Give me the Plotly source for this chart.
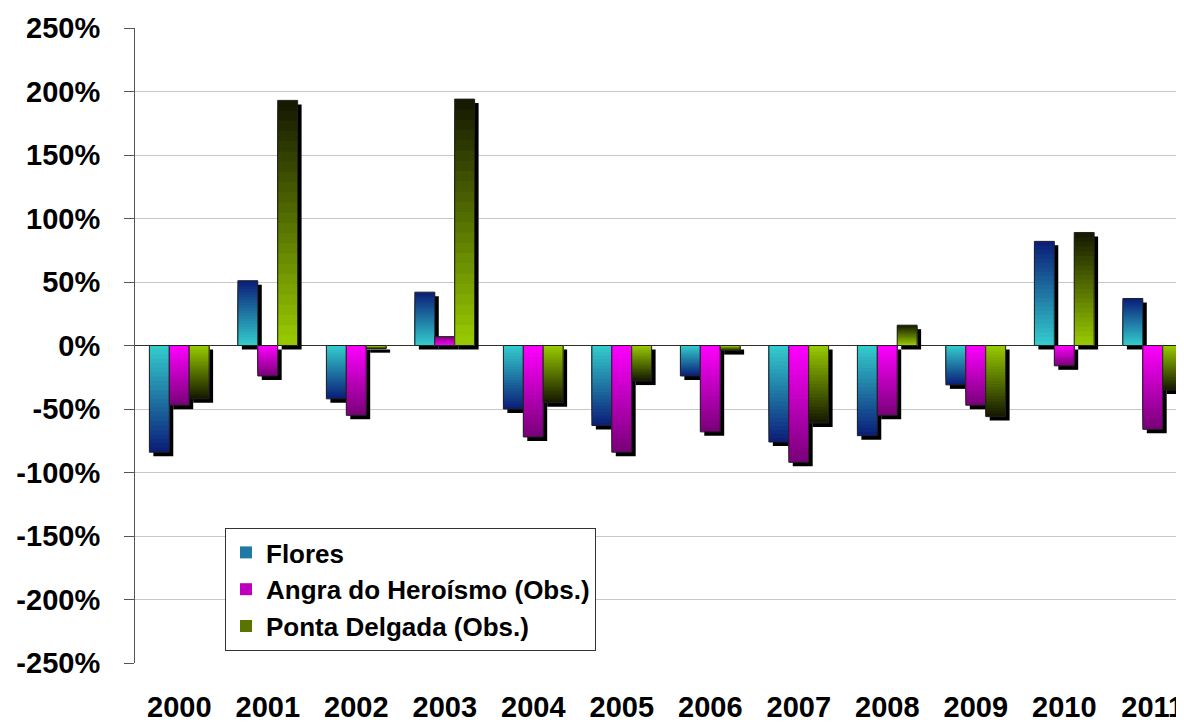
import numpy as np
import plotly.graph_objects as go

# ---------------- data ----------------
years = ["2000", "2001", "2002", "2003", "2004", "2005",
         "2006", "2007", "2008", "2009", "2010", "2011"]
flores = [-84, 51, -42, 42, -50, -63, -24, -76, -71, -31, 82, 37]
angra = [-47, -24, -55, 7, -72, -84, -68, -92, -55, -47, -16, -66]
ponta = [-42, 193, -2.5, 194, -45, -28, -4, -61, 16, -56, 89, -35]
series_names = ["Flores", "Angra do Heroísmo (Obs.)", "Ponta Delgada (Obs.)"]
y_ticks = [-250, -200, -150, -100, -50, 0, 50, 100, 150, 200, 250]

# ---------------- styles ----------------
# (bright colour at the bar base, dark colour at the bar tip)
grad_colors = [
    ((52, 206, 206), (10, 28, 120)),
    ((255, 0, 255), (120, 0, 120)),
    ((153, 204, 0), (20, 22, 0)),
]
bar_w = 0.225
offsets = [-0.3375, -0.1125, 0.1125]
shadow_dx = 0.045
shadow_dy = 3.15
n_seg = 24
x_max = 11.353
font_family = "Liberation Sans, Arial, sans-serif"
PAGE_PAD = 8  # default body margin of the html page


def lerp(c0, c1, t):
    return "rgb(%d,%d,%d)" % tuple(round(a + (b - a) * t) for a, b in zip(c0, c1))


fig = go.Figure()
all_vals = [flores, angra, ponta]

# shadows (behind every bar)
for vals, off in zip(all_vals, offsets):
    fig.add_trace(go.Bar(
        x=years, y=vals, base=[-shadow_dy] * len(vals),
        width=bar_w, offset=off + shadow_dx,
        marker=dict(color="black", line=dict(width=0)),
        showlegend=False, hoverinfo="skip"))

# gradient-filled bars
for name, vals, off, (c_base, c_tip) in zip(series_names, all_vals, offsets, grad_colors):
    v = np.array(vals, dtype=float)
    for k in range(n_seg):
        frac = (n_seg - k) / n_seg
        t = (n_seg - k - 0.5) / n_seg
        fig.add_trace(go.Bar(
            x=years, y=v * frac, width=bar_w, offset=off,
            marker=dict(color=lerp(c_base, c_tip, t), line=dict(width=0)),
            name=name, legendgroup=name,
            showlegend=(k == n_seg // 2),
            hoverinfo="skip" if k else None))
    # thin dark outline
    fig.add_trace(go.Bar(
        x=years, y=v, width=bar_w, offset=off,
        marker=dict(color="rgba(0,0,0,0)", line=dict(color="#202020", width=1)),
        showlegend=False, legendgroup=name, hoverinfo="skip"))

tick_font = dict(family=font_family, size=29, color="black", weight="bold")

W, H = 1184 - PAGE_PAD, 724 - PAGE_PAD
m_l, m_t, m_r = 135 - PAGE_PAD, 28 - PAGE_PAD, 0
plot_h = 635
m_b = H - m_t - plot_h

fig.update_layout(
    width=W, height=H,
    barmode="overlay",
    paper_bgcolor="white", plot_bgcolor="white",
    margin=dict(l=m_l, r=m_r, t=m_t, b=m_b, pad=0),
    showlegend=True,
    legend=dict(
        x=(225 - 135) / 1049, y=(663 - 528) / 635,
        xanchor="left", yanchor="top",
        bgcolor="white", bordercolor="#333333", borderwidth=1,
        font=dict(family=font_family, size=26, color="black", weight="bold"),
        tracegroupgap=0,
    ),
    xaxis=dict(
        type="category", range=[-0.5, x_max], automargin=False,
        showgrid=False, showline=False, zeroline=False,
        ticks="", tickfont=tick_font, ticklabelstandoff=24,
    ),
    xaxis2=dict(
        overlaying="x", anchor="free", position=0.5, side="bottom",
        type="linear", range=[-0.5, x_max], automargin=False,
        tickvals=[i + 0.5 for i in range(len(years) - 1)],
        ticks="outside", ticklen=9, tickcolor="#404040", tickwidth=1,
        showticklabels=False, showgrid=False, showline=False, zeroline=False,
    ),
    yaxis=dict(
        range=[-250, 250], automargin=False,
        tickvals=y_ticks, ticktext=[f"{v}%" for v in y_ticks],
        showline=True, linecolor="#555555", linewidth=1,
        ticks="outside", ticklen=10, tickcolor="#555555",
        showgrid=True, gridcolor="#c8c8c8", gridwidth=1,
        zeroline=True, zerolinecolor="#303030", zerolinewidth=1,
        tickfont=tick_font, ticklabelstandoff=18,
    ),
)

fig.write_html("out.html")
